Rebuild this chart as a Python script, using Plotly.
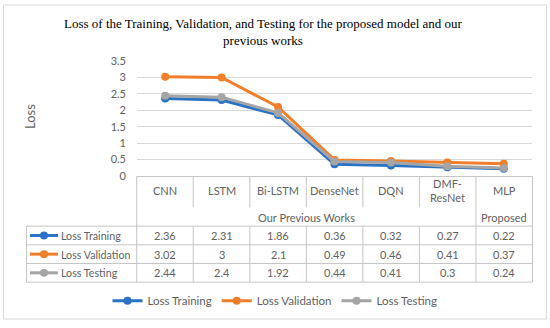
import plotly.graph_objects as go

categories = ["CNN", "LSTM", "Bi-LSTM", "DenseNet", "DQN", "DMF-ResNet", "MLP"]
category_labels = ["CNN", "LSTM", "Bi-LSTM", "DenseNet", "DQN", "DMF-<br>ResNet", "MLP"]
groups = ["Our Previous Works"] * 6 + ["Proposed"]
loss_training = [2.36, 2.31, 1.86, 0.36, 0.32, 0.27, 0.22]
loss_validation = [3.02, 3.0, 2.1, 0.49, 0.46, 0.41, 0.37]
loss_testing = [2.44, 2.4, 1.92, 0.44, 0.41, 0.30, 0.24]
y_ticks = [0, 0.5, 1, 1.5, 2, 2.5, 3, 3.5]

series = [
    ("Loss Training", loss_training, "#2A72C6"),
    ("Loss Validation", loss_validation, "#F07E2B"),
    ("Loss Testing", loss_testing, "#A5A5A5"),
]

W, H = 550, 328
ML, MR, MT, MB = 137, 18, 61, 150
PW = W - ML - MR
PH = H - MT - MB

def px(x):
    return (x - ML) / PW

def py(y):
    return (H - MB - y) / PH

FONT = "Lato, Carlito, Calibri, sans-serif"
TXT = "#626262"
BORDER = "#c6c6c6"

fig = go.Figure()
xs = list(range(len(categories)))
for name, vals, col in series:
    fig.add_trace(go.Scatter(
        x=xs, y=vals, name=name, mode="lines+markers",
        line=dict(color=col, width=3),
        marker=dict(color=col, size=8),
    ))

shapes = []
annotations = []

# outer chart border
shapes.append(dict(type="rect", xref="paper", yref="paper",
                   x0=px(3.5), x1=px(546.5), y0=py(4), y1=py(323.5),
                   line=dict(color="#d9d9d9", width=1), layer="below"))

# table geometry
n = len(categories)
col_edges = [px(136.7 + i * (532.5 - 136.7) / n) for i in range(n + 1)]
x_left = px(26.5)
y_top = py(178.5)
y_cat_bottom = py(210)
y_rows = [py(229), py(248), py(267), py(286)]

def hline(x0, x1, y):
    shapes.append(dict(type="line", xref="paper", yref="paper",
                       x0=x0, x1=x1, y0=y, y1=y,
                       line=dict(color=BORDER, width=1)))

def vline(x, y0, y1):
    shapes.append(dict(type="line", xref="paper", yref="paper",
                       x0=x, x1=x, y0=y0, y1=y1,
                       line=dict(color=BORDER, width=1)))

hline(col_edges[0], col_edges[-1], y_top)
for yr in y_rows:
    hline(x_left, col_edges[-1], yr)
vline(col_edges[0], y_top, y_rows[-1])
vline(col_edges[-1], y_top, y_rows[-1])
vline(col_edges[6], y_top, y_rows[-1])
vline(x_left, y_rows[0], y_rows[-1])
for i in range(1, 6):
    vline(col_edges[i], y_top, y_cat_bottom)
    vline(col_edges[i], y_rows[0], y_rows[-1])

centers = [(col_edges[i] + col_edges[i + 1]) / 2 for i in range(n)]

# category labels
for i, lab in enumerate(category_labels):
    annotations.append(dict(xref="paper", yref="paper", x=centers[i], y=py(193),
                            text=lab, showarrow=False, xanchor="center", yanchor="middle",
                            font=dict(family=FONT, size=11, color=TXT)))
# group labels
annotations.append(dict(xref="paper", yref="paper",
                        x=(col_edges[0] + col_edges[6]) / 2, y=py(220),
                        text=groups[0], showarrow=False, xanchor="center", yanchor="middle",
                        font=dict(family=FONT, size=11, color=TXT)))
annotations.append(dict(xref="paper", yref="paper", x=centers[6], y=py(220),
                        text=groups[6], showarrow=False, xanchor="center", yanchor="middle",
                        font=dict(family=FONT, size=11, color=TXT)))

# data rows
for r, (name, vals, col) in enumerate(series):
    yc_px = 238.5 + r * 19
    yc = py(yc_px)
    shapes.append(dict(type="line", xref="paper", yref="paper",
                       x0=px(30), x1=px(58), y0=yc, y1=yc,
                       line=dict(color=col, width=3)))
    shapes.append(dict(type="circle", xref="paper", yref="paper",
                       x0=px(40), x1=px(48), y0=py(yc_px + 4), y1=py(yc_px - 4),
                       fillcolor=col, line=dict(color=col, width=0)))
    annotations.append(dict(xref="paper", yref="paper", x=px(59), y=yc,
                            text=name, showarrow=False, xanchor="left", yanchor="middle",
                            font=dict(family=FONT, size=10.7, color=TXT)))
    for i, v in enumerate(vals):
        annotations.append(dict(xref="paper", yref="paper", x=centers[i], y=yc,
                                text=f"{v:g}", showarrow=False, xanchor="center", yanchor="middle",
                                font=dict(family=FONT, size=11, color=TXT)))

# title
annotations.append(dict(xref="paper", yref="paper", x=px(263), y=py(31.5),
                        text="Loss of the Training, Validation, and Testing for the proposed model and our<br>previous works",
                        showarrow=False, xanchor="center", yanchor="middle",
                        font=dict(family="Liberation Serif, Times New Roman, serif", size=13, color="#000000")))
# y axis title
annotations.append(dict(xref="paper", yref="paper", x=px(30), y=py(118),
                        text="Loss", textangle=-90, showarrow=False,
                        xanchor="center", yanchor="middle",
                        font=dict(family=FONT, size=13, color=TXT)))

fig.update_layout(
    width=W, height=H,
    margin=dict(l=ML, r=MR, t=MT, b=MB),
    paper_bgcolor="white", plot_bgcolor="white",
    shapes=shapes, annotations=annotations,
    showlegend=True,
    legend=dict(orientation="h", x=px(275), xanchor="center",
                y=py(305), yanchor="middle",
                font=dict(family=FONT, size=11.5, color=TXT),
                itemwidth=30, bgcolor="rgba(0,0,0,0)"),
    xaxis=dict(range=[-0.5, n - 0.5], showgrid=False, zeroline=False,
               showticklabels=False, showline=False, fixedrange=True),
    yaxis=dict(range=[0, 3.5], tickvals=y_ticks, ticktext=[f"{t:g}" for t in y_ticks],
               showgrid=True, gridcolor="#d9d9d9", gridwidth=1,
               zeroline=False, showline=False,
               tickfont=dict(family=FONT, size=11, color=TXT),
               ticklabelstandoff=10, fixedrange=True),
)

fig.write_html("out.html", config={"displayModeBar": False},
               post_script="document.body.style.margin='0';document.body.style.padding='0';")
